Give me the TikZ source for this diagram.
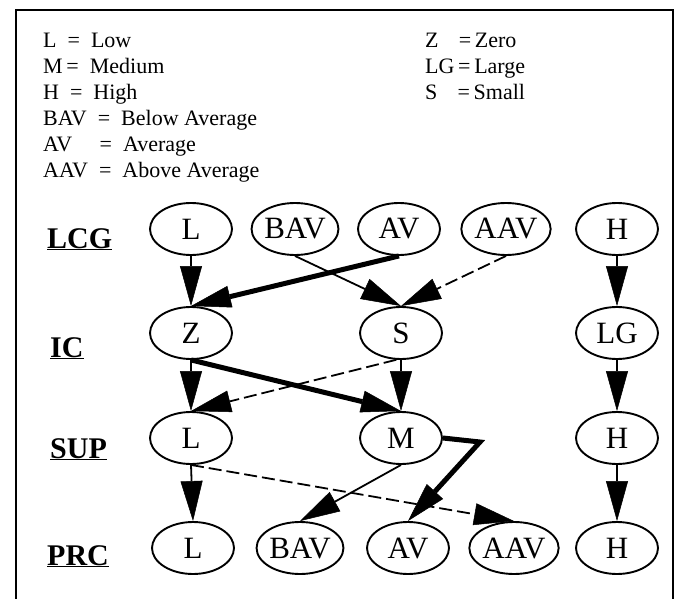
\documentclass[tikz,border=0pt]{standalone}
\usepackage{fontspec}
\setmainfont{Liberation Serif}
\usepackage{tikz}
\usetikzlibrary{arrows.meta,shapes.geometric}

\tikzset{
  val/.style={ellipse,draw,line width=1.9pt,minimum width=82pt,minimum height=52pt,inner sep=0pt,font=\fontsize{31}{36}\selectfont},
  var/.style={anchor=base west,inner sep=0pt,font=\fontsize{30}{36}\selectfont\bfseries},
  legend/.style={anchor=base west,inner sep=0pt,font=\fontsize{22}{26}\selectfont},
  link/.style={line width=1.8pt,-{Triangle[length=40pt,width=22pt,line width=0.5pt]}},
  heavy/.style={link,line width=5pt},
  broken/.style={link,dash pattern=on 13pt off 5pt}
}

\begin{document}
\begin{tikzpicture}[x=1pt,y=-1pt]
\useasboundingbox (0,0) rectangle (683,599);
\draw[line width=2pt] (16,620) -- (16,10) -- (673,10) -- (673,620);
% key
\foreach \t [count=\i] in {{L\ \ =\ \ Low},{M\,=\ \ Medium},{H\ \ =\ \ High},{BAV\ \ =\ \ Below Average},{AV\ \ \ \ \ =\ \ Average},{AAV\ \ =\ \ Above Average}}
  \node[legend] (leg\i) at (43,{48+26*(\i-1)}) {\t};
\foreach \t [count=\i] in {{Z\ \ \ \,=\,Zero},{LG\,=\,Large},{S\ \ \ \,=\,Small}}
  \node[legend] (legr\i) at (425,{48+26*(\i-1)}) {\t};
% variables
\node[var] (lcg) at (47,248) {\underline{LCG}};
\node[var] (ic) at (50,357) {\underline{IC}};
\node[var] (sup) at (50,458) {\underline{SUP}};
\node[var] (prc) at (47,565) {\underline{PRC}};
% values
\node[val] (lL) at (191,229) {L};
\node[val] (lBAV) at (295,229) {BAV};
\node[val] (lAV) at (399,229) {AV};
\node[val] (lAAV) at (506,229) {AAV};
\node[val] (lH) at (617,229) {H};
\node[val] (iZ) at (191,333) {Z};
\node[val] (iS) at (401,333) {S};
\node[val] (iLG) at (617,333) {LG};
\node[val] (sL) at (191,438) {L};
\node[val] (sM) at (401,438) {M};
\node[val] (sH) at (617,438) {H};
\node[val] (pL) at (193,548) {L};
\node[val] (pBAV) at (300,548) {BAV};
\node[val] (pAV) at (408,548) {AV};
\node[val] (pAAV) at (514,548) {AAV};
\node[val] (pH) at (617,548) {H};
\coordinate (bend) at (480,442);
% arrows
\draw[link] (lL) -- (iZ);
\draw[link] (lBAV.south) -- (iS.north);
\draw[heavy] (lAV.south) -- (iZ.north);
\draw[broken] (lAAV.south) -- (iS.north);
\draw[link] (lH) -- (iLG);
\draw[link] (iZ) -- (sL);
\draw[heavy] (iZ.south) -- (sM.north);
\draw[broken] (iS.260) -- (sL.north);
\draw[link] (iS) -- (sM);
\draw[link] (iLG) -- (sH);
\draw[link] (sL.south) -- (pL.north);
\draw[broken] (sL.south) -- (pAAV.north);
\draw[link] (sM.south) -- (pBAV.north);
\draw[heavy,line join=miter] (sM.east) -- (bend) -- (pAV.north);
\draw[link] (sH) -- (pH);
\end{tikzpicture}
\end{document}
